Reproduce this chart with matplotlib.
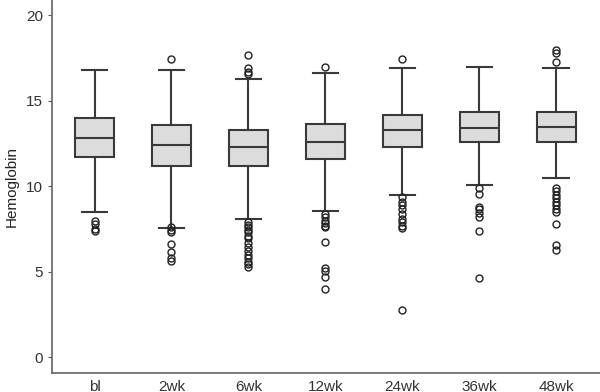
import numpy as np
import matplotlib.pyplot as plt

plt.rcParams['font.family'] = ['Liberation Sans', 'DejaVu Sans']

# visits and box summary values
visits = ['bl', '2wk', '6wk', '12wk', '24wk', '36wk', '48wk']
whisker_lo = [8.5, 7.57, 8.1, 8.57, 9.5, 10.1, 10.5]
q1 = [11.73, 11.2, 11.2, 11.6, 12.3, 12.6, 12.6]
median = [12.84, 12.43, 12.3, 12.6, 13.3, 13.43, 13.5]
q3 = [14.02, 13.6, 13.3, 13.66, 14.2, 14.37, 14.37]
whisker_hi = [16.83, 16.83, 16.3, 16.65, 16.9, 17.0, 16.9]

# outliers per visit
outliers = [
    [7.95, 7.8, 7.5, 7.4],
    [17.42, 7.6, 7.45, 7.33, 6.63, 6.16, 5.8, 5.63],
    [17.7, 16.95, 16.7, 16.6, 7.9, 7.75, 7.6, 7.45, 7.3, 7.1, 6.95, 6.7,
     6.45, 6.2, 6.0, 5.8, 5.6, 5.45, 5.3],
    [17.0, 8.4, 8.2, 8.0, 7.85, 7.7, 7.6, 6.75, 5.2, 5.05, 4.7, 4.0],
    [17.42, 9.35, 9.1, 8.9, 8.7, 8.4, 8.1, 7.9, 7.7, 7.55, 2.75],
    [9.9, 9.55, 8.8, 8.65, 8.45, 8.2, 7.4, 4.65],
    [18.0, 17.8, 17.3, 9.9, 9.7, 9.5, 9.3, 9.1, 8.9, 8.7, 8.5, 7.8, 6.55, 6.25],
]

stats = []
for i, v in enumerate(visits):
    stats.append(dict(label=v, whislo=whisker_lo[i], q1=q1[i], med=median[i],
                      q3=q3[i], whishi=whisker_hi[i], fliers=outliers[i]))

line_col = '#3a3a3a'
fig = plt.figure(figsize=(6, 3.92), dpi=100)
ax = fig.add_axes([0.087, 0.048, 0.913, 0.952])

ax.bxp(stats, positions=np.arange(len(visits)), widths=0.51, capwidths=0.33,
       patch_artist=True,
       boxprops=dict(facecolor='#dcdcdc', edgecolor=line_col, linewidth=1.5),
       medianprops=dict(color=line_col, linewidth=1.5),
       whiskerprops=dict(color=line_col, linewidth=1.5),
       capprops=dict(color=line_col, linewidth=1.5),
       flierprops=dict(marker='o', markersize=5, markerfacecolor='none',
                       markeredgecolor='#222222', markeredgewidth=1.0))

ax.set_xlim(-0.55, 6.57)
ax.set_ylim(-0.93, 20.9)
ax.set_yticks([0, 5, 10, 15, 20])
ax.set_ylabel('Hemoglobin', fontsize=11, color='#222222', labelpad=5)
ax.tick_params(axis='y', length=3, color='#555555', labelsize=11, labelcolor='#333333')
ax.tick_params(axis='x', length=0, labelsize=11, labelcolor='#333333', pad=5)
for s in ['top', 'right']:
    ax.spines[s].set_visible(False)
for s in ['left', 'bottom']:
    ax.spines[s].set_color('#707070')
    ax.spines[s].set_linewidth(1.3)

fig.savefig('out.png', dpi=100)
